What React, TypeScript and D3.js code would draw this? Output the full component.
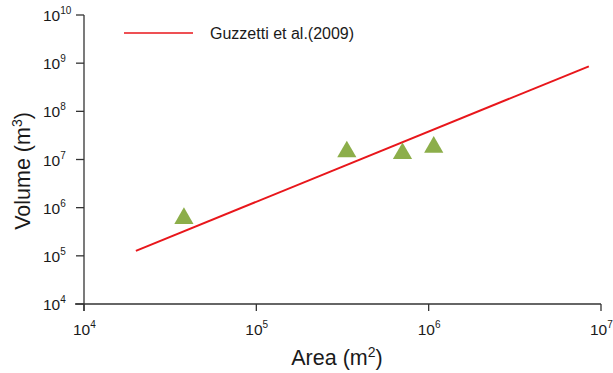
import * as d3 from "d3";

// Guzzetti et al. (2009) area-volume relation, end points
const lineAreas = [2.0e4, 8.5e6];
const lineVolumes = [1.27e5, 8.6e8];

// observed landslides (triangles)
const pointAreas = [3.8e4, 3.35e5, 7.05e5, 1.07e6];
const pointVolumes = [6.0e5, 1.45e7, 1.33e7, 1.8e7];

const xTickExps = [4, 5, 6, 7];
const yTickExps = [4, 5, 6, 7, 8, 9, 10];

const legendLabel = "Guzzetti et al.(2009)";

const W = 613;
const H = 373;
const font = "'Liberation Sans', Arial, sans-serif";
const axisColor = "#333";

const App = () => {
  const x = d3.scaleLog().domain([1e4, 1e7]).range([84, 601]);
  const y = d3.scaleLog().domain([1e4, 1e10]).range([304, 15]);

  const line = d3
    .line<number>()
    .x((d, i) => x(lineAreas[i]))
    .y((d) => y(d));

  const tri = d3.symbol().type(d3.symbolTriangle).size(160)();

  return (
    <svg
      width={W}
      height={H}
      style={{ position: "absolute", left: 0, top: 0, fontFamily: font }}
    >
      <rect width={W} height={H} fill="#fff" />

      {/* axes */}
      <line x1={x(1e4)} x2={x(1e4)} y1={y(1e10)} y2={y(1e4) + 7} stroke={axisColor} strokeWidth={1.3} />
      <line x1={x(1e4) - 9} x2={x(1e7)} y1={y(1e4)} y2={y(1e4)} stroke={axisColor} strokeWidth={1.3} />

      {yTickExps.map((e) => (
        <g key={"y" + e}>
          <line x1={x(1e4) - 8} x2={x(1e4)} y1={y(10 ** e)} y2={y(10 ** e)} stroke={axisColor} strokeWidth={1.3} />
          <text x={43} y={y(10 ** e) + 6} fontSize={15.5} fill="#1a1a1a">
            10
            <tspan dy={-7} fontSize={10}>{e}</tspan>
          </text>
        </g>
      ))}

      {xTickExps.map((e) => (
        <g key={"x" + e}>
          <line x1={x(10 ** e)} x2={x(10 ** e)} y1={y(1e4)} y2={y(1e4) + 7} stroke={axisColor} strokeWidth={1.3} />
          <text x={x(10 ** e) - 11} y={335} fontSize={15.5} fill="#1a1a1a">
            10
            <tspan dy={-7} fontSize={10}>{e}</tspan>
          </text>
        </g>
      ))}

      {/* axis titles */}
      <text x={337} y={365} fontSize={21.5} textAnchor="middle" fill="#1a1a1a">
        Area (m<tspan dy={-8} fontSize={14}>2</tspan>
        <tspan dy={8}>)</tspan>
      </text>
      <text
        transform={`translate(30, 171) rotate(-90)`}
        fontSize={21.5}
        textAnchor="middle"
        fill="#1a1a1a"
      >
        Volume (m<tspan dy={-8} fontSize={14}>3</tspan>
        <tspan dy={8}>)</tspan>
      </text>

      {/* relation line */}
      <path d={line(lineVolumes) ?? ""} fill="none" stroke="#e8161b" strokeWidth={2} />

      {/* points */}
      {pointAreas.map((a, i) => (
        <path
          key={"p" + i}
          d={tri ?? ""}
          transform={`translate(${x(a)}, ${y(pointVolumes[i])})`}
          fill="#8cae4a"
        />
      ))}

      {/* legend */}
      <line x1={124} x2={193} y1={33} y2={33} stroke="#e8161b" strokeWidth={1.5} />
      <text x={210} y={39} fontSize={16} fill="#1a1a1a">
        {legendLabel}
      </text>
    </svg>
  );
};

export default App;
